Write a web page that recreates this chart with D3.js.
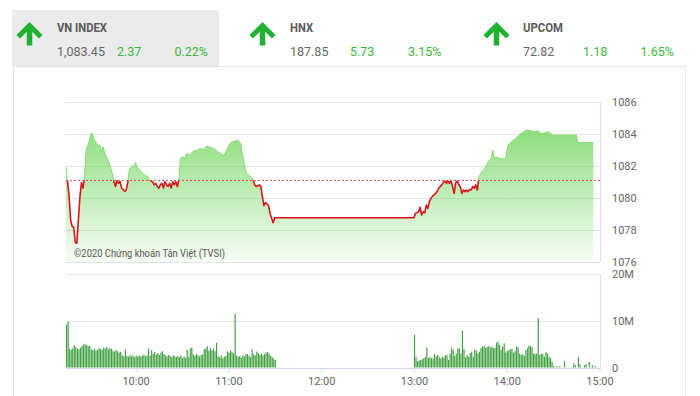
<!DOCTYPE html>
<html lang="vi">
<head>
<meta charset="UTF-8">
<title>VN INDEX</title>
<script src="https://cdn.jsdelivr.net/npm/d3@7"></script>
<style>
  body { margin: 0; background: #fff; }
  svg { display: block; font-family: Roboto, "Liberation Sans", sans-serif; }
</style>
</head>
<body>
<script>
// ---- header data
var indexNames = ["VN INDEX", "HNX", "UPCOM"];
var indexLast = ["1,083.45", "187.85", "72.82"];
var indexChange = ["2.37", "5.73", "1.18"];
var indexPct = ["0.22%", "3.15%", "1.65%"];

// ---- intraday price (time, value)
var priceTimes = ["09:15","09:16","09:17","09:18","09:19","09:20","09:21","09:22","09:23","09:24","09:25","09:26","09:27","09:28","09:30","09:31","09:32","09:33","09:34","09:36","09:37","09:38","09:39","09:40","09:41","09:43","09:45","09:46","09:47","09:48","09:49","09:50","09:51","09:52","09:53","09:54","09:55","09:56","09:57","09:59","10:00","10:01","10:03","10:05","10:06","10:08","10:09","10:11","10:12","10:13","10:14","10:15","10:16","10:17","10:18","10:19","10:20","10:21","10:22","10:23","10:24","10:25","10:26","10:27","10:28","10:29","10:31","10:32","10:33","10:35","10:37","10:40","10:42","10:44","10:46","10:48","10:50","10:52","10:53","10:55","10:57","10:58","10:59","11:01","11:03","11:05","11:06","11:08","11:09","11:11","11:12","11:13","11:15","11:16","11:17","11:18","11:20","11:21","11:22","11:23","11:24","11:26","11:27","11:28","11:29","11:30","13:00","13:01","13:03","13:04","13:05","13:06","13:07","13:08","13:09","13:10","13:11","13:12","13:13","13:15","13:16","13:18","13:19","13:20","13:21","13:22","13:23","13:24","13:25","13:26","13:27","13:28","13:29","13:30","13:31","13:32","13:33","13:34","13:35","13:36","13:37","13:38","13:39","13:40","13:41","13:42","13:44","13:46","13:48","13:50","13:51","13:52","13:53","13:55","13:57","13:59","14:00","14:01","14:03","14:05","14:07","14:09","14:11","14:13","14:15","14:18","14:20","14:22","14:23","14:25","14:27","14:28","14:30","14:45","14:46","14:56"];
var priceValues = [1081.9,1081.0,1080.1,1078.6,1078.2,1078.15,1077.2,1077.15,1078.6,1080.06,1080.95,1080.6,1081.3,1082.98,1083.5,1084.0,1084.0,1083.7,1083.5,1083.2,1083.3,1082.9,1083.2,1082.8,1082.6,1082.15,1081.5,1081.0,1080.7,1081.1,1080.9,1081.0,1080.6,1080.5,1080.4,1080.5,1081.0,1081.8,1081.9,1082.0,1082.2,1081.9,1081.7,1081.5,1081.4,1081.3,1081.1,1081.0,1080.8,1080.9,1080.7,1080.6,1080.8,1080.9,1080.6,1081.0,1080.8,1080.7,1080.9,1080.6,1081.0,1080.8,1081.0,1080.7,1081.1,1082.46,1082.56,1082.46,1082.77,1082.67,1082.88,1082.98,1083.08,1083.0,1083.23,1083.15,1083.08,1082.98,1082.88,1082.77,1082.67,1082.77,1082.98,1083.4,1083.5,1083.56,1083.6,1083.4,1082.77,1081.73,1081.52,1081.42,1081.27,1081.1,1080.8,1080.7,1080.8,1080.7,1080.06,1079.5,1079.7,1079.5,1079.0,1078.7,1078.44,1078.75,1078.75,1079.02,1079.12,1079.4,1078.92,1079.12,1079.06,1079.54,1079.33,1079.75,1079.96,1080.1,1080.17,1080.38,1080.59,1080.8,1080.94,1081.06,1080.9,1081.06,1080.9,1081.06,1080.69,1080.27,1080.94,1081.06,1080.8,1080.69,1080.27,1080.48,1080.38,1080.48,1080.38,1080.52,1080.48,1080.69,1080.59,1080.8,1080.48,1081.31,1081.63,1081.84,1082.25,1082.46,1082.98,1082.46,1082.56,1082.46,1082.46,1082.36,1082.88,1083.29,1083.5,1083.65,1083.81,1083.98,1084.13,1084.23,1084.19,1084.13,1084.19,1084.02,1084.02,1084.06,1084.13,1084.02,1083.92,1083.92,1083.45,1083.45];
var refValue = 1081.08;

// ---- volume (millions), one bar per minute
var volMorningStart = "09:15";
var volMorning = [9.2,9.9,4.0,3.8,4.1,4.8,4.4,4.0,3.9,4.2,4.6,4.9,5.1,4.8,4.6,4.7,3.9,3.7,4.0,3.6,3.8,4.2,4.0,3.8,4.3,4.1,4.4,3.9,4.2,4.0,3.6,3.4,3.8,3.5,3.2,3.4,2.6,2.4,3.9,2.5,2.3,2.7,2.4,2.6,2.2,2.5,2.4,2.6,2.3,2.5,2.8,2.4,2.6,4.1,2.5,3.7,2.9,3.3,2.8,3.1,2.7,3.2,3.5,2.9,2.6,2.4,2.7,2.5,2.2,2.6,2.4,2.3,2.5,2.2,2.6,2.0,2.4,2.1,3.8,2.3,4.1,4.3,2.8,2.5,2.9,2.6,2.4,2.7,2.8,3.9,4.1,4.6,3.6,4.2,3.7,4.1,3.5,5.3,2.4,2.2,2.6,2.0,2.3,2.5,3.5,3.2,3.7,3.4,3.0,11.5,2.6,2.3,2.5,2.1,2.6,2.4,2.8,2.9,2.5,2.2,3.9,2.8,2.6,3.4,3.1,2.7,3.0,2.6,2.9,3.2,3.3,3.0,2.5,2.2,1.9,1.6];
var volAfternoonStart = "13:00";
var volAfternoon = [7.0,2.3,1.3,1.5,1.6,1.8,2.0,2.3,4.3,2.0,2.2,2.0,1.9,2.9,2.4,2.7,2.2,1.9,2.3,2.1,2.6,2.7,1.6,3.0,4.3,3.8,2.5,3.0,4.1,4.1,3.0,7.9,3.9,2.2,2.7,2.3,3.1,3.4,2.3,3.9,3.6,3.0,3.4,4.2,4.5,4.6,4.2,4.4,4.6,4.3,4.5,4.2,4.2,5.3,5.6,4.8,3.8,4.5,5.2,3.2,3.6,3.7,3.9,4.0,3.2,3.5,4.5,4.3,3.0,2.7,2.9,2.5,3.7,4.1,4.7,4.6,4.4,3.0,2.9,3.0,10.6,2.7,3.0,2.9,2.3,3.3,3.0,2.3,2.0,1.2];
var lateTimes = ["14:30","14:32","14:34","14:37","14:43","14:44","14:46","14:47","14:50","14:51","14:53","14:55","14:57"];
var lateVols = [0.3,0.3,0.3,1.4,0.9,0.5,2.3,0.7,0.5,0.7,1.2,0.5,0.3];

// ---- axes
var priceTicks = [1076, 1078, 1080, 1082, 1084, 1086];
var volTicks = [0, 10, 20];
var volTickLabels = ["0", "10M", "20M"];
var hourTicks = ["10:00", "11:00", "12:00", "13:00", "14:00", "15:00"];

var w = 700, h = 396;
var parseTime = d3.timeParse("%H:%M");
var fmtTime = d3.timeFormat("%H:%M");

var x = d3.scaleTime()
  .domain([parseTime("09:15"), parseTime("15:00")])
  .range([66, 599.5]);
var yP = d3.scaleLinear().domain([1076, 1086]).range([261.7, 101.7]);
var yV = d3.scaleLinear().domain([0, 20]).range([367.5, 274.3]);

var svg = d3.select("body").append("svg")
  .attr("width", w)
  .attr("height", h);

var defs = svg.append("defs");
var grad = defs.append("linearGradient")
  .attr("id", "greenFill")
  .attr("gradientUnits", "userSpaceOnUse")
  .attr("x1", 0).attr("x2", 0)
  .attr("y1", yP(1085)).attr("y2", yP(1076));
grad.append("stop").attr("offset", 0).attr("stop-color", "#6fd65a").attr("stop-opacity", 0.85);
grad.append("stop").attr("offset", 1).attr("stop-color", "#6fd65a").attr("stop-opacity", 0.06);

defs.append("clipPath").attr("id", "clipAbove")
  .append("rect").attr("x", 0).attr("y", 0).attr("width", w).attr("height", yP(refValue));
defs.append("clipPath").attr("id", "clipBelow")
  .append("rect").attr("x", 0).attr("y", yP(refValue)).attr("width", w).attr("height", h);

// ---- header / frame
svg.append("rect")
  .attr("x", 12).attr("y", 10).attr("width", 207).attr("height", 56)
  .attr("fill", "#ebebeb");
svg.append("line")
  .attr("x1", 13).attr("x2", 685).attr("y1", 66.5).attr("y2", 66.5)
  .attr("stroke", "#e4e4e4");
svg.append("line")
  .attr("x1", 13.5).attr("x2", 13.5).attr("y1", 66).attr("y2", h)
  .attr("stroke", "#e4e4e4");
svg.append("line")
  .attr("x1", 685.5).attr("x2", 685.5).attr("y1", 66).attr("y2", h)
  .attr("stroke", "#e8e8e8");

var arrowX = [29.5, 262.5, 496.5];
var textX = [57, 290, 523];
var titleW = [50, 23, 40];
var chgX = [117, 350, 583];
var pctRight = [208, 441.5, 674];

indexNames.forEach(function(name, i) {
  var g = svg.append("g");
  var ax = arrowX[i];
  g.append("path")
    .attr("d", "M" + (ax - 9.5) + ",35 L" + ax + ",25.5 L" + (ax + 9.5) + ",35")
    .attr("fill", "none")
    .attr("stroke", "#1fb22f")
    .attr("stroke-width", 5)
    .attr("stroke-linecap", "square");
  g.append("line")
    .attr("x1", ax).attr("x2", ax).attr("y1", 27).attr("y2", 45.5)
    .attr("stroke", "#1fb22f")
    .attr("stroke-width", 5.5);
  g.append("text")
    .attr("x", textX[i]).attr("y", 31.8)
    .attr("font-size", 13).attr("font-weight", "bold")
    .attr("fill", "#5a5a5a")
    .attr("textLength", titleW[i])
    .attr("lengthAdjust", "spacingAndGlyphs")
    .text(name);
  g.append("text")
    .attr("x", textX[i]).attr("y", 56)
    .attr("font-size", 12.5)
    .attr("fill", "#666")
    .text(indexLast[i]);
  g.append("text")
    .attr("x", chgX[i]).attr("y", 56)
    .attr("font-size", 12.5)
    .attr("fill", "#3cb73c")
    .text(indexChange[i]);
  g.append("text")
    .attr("x", pctRight[i]).attr("y", 56)
    .attr("font-size", 12.5)
    .attr("text-anchor", "end")
    .attr("fill", "#3cb73c")
    .text(indexPct[i]);
});

// ---- price chart
svg.append("g")
  .selectAll("line")
  .data(priceTicks)
  .enter()
  .append("line")
  .attr("x1", 66).attr("x2", 600)
  .attr("y1", function(d) { return Math.round(yP(d)) + 0.5; })
  .attr("y2", function(d) { return Math.round(yP(d)) + 0.5; })
  .attr("stroke", "#e3e3e3");

svg.append("line")
  .attr("x1", 600.5).attr("x2", 600.5)
  .attr("y1", yP(1086)).attr("y2", yP(1076))
  .attr("stroke", "#d8dfea");

var priceData = priceTimes.map(function(t, i) {
  return { t: parseTime(t), v: priceValues[i] };
});

var area = d3.area()
  .x(function(d) { return x(d.t); })
  .y0(yP(1076))
  .y1(function(d) { return yP(d.v); });
var line = d3.line()
  .x(function(d) { return x(d.t); })
  .y(function(d) { return yP(d.v); });

svg.append("path")
  .datum(priceData)
  .attr("d", area)
  .attr("fill", "url(#greenFill)");

svg.append("path")
  .datum(priceData)
  .attr("d", line)
  .attr("fill", "none")
  .attr("stroke", "#86dc73")
  .attr("stroke-width", 1)
  .attr("clip-path", "url(#clipAbove)");

svg.append("path")
  .datum(priceData)
  .attr("d", line)
  .attr("fill", "none")
  .attr("stroke", "#d8141c")
  .attr("stroke-width", 1.6)
  .attr("stroke-linejoin", "round")
  .attr("clip-path", "url(#clipBelow)");

// reference (previous close)
svg.append("line")
  .attr("x1", 66).attr("x2", 600)
  .attr("y1", yP(refValue)).attr("y2", yP(refValue))
  .attr("stroke", "#e0474c")
  .attr("stroke-width", 1)
  .attr("stroke-dasharray", "2,2");

svg.append("text")
  .attr("x", 74).attr("y", 256.5)
  .attr("font-size", 10.5)
  .attr("fill", "#555")
  .attr("textLength", 151)
  .attr("lengthAdjust", "spacingAndGlyphs")
  .text("©2020 Chứng khoán Tân Việt (TVSI)");

svg.append("g")
  .selectAll("text")
  .data(priceTicks)
  .enter()
  .append("text")
  .attr("x", 612)
  .attr("y", function(d) { return yP(d) + 4; })
  .attr("font-size", 11)
  .attr("fill", "#666")
  .text(function(d) { return d; });

// ---- volume chart
svg.append("g")
  .selectAll("line")
  .data(volTicks.slice(1))
  .enter()
  .append("line")
  .attr("x1", 66).attr("x2", 600)
  .attr("y1", function(d) { return Math.round(yV(d)) + 0.5; })
  .attr("y2", function(d) { return Math.round(yV(d)) + 0.5; })
  .attr("stroke", "#e3e3e3");

svg.append("line")
  .attr("x1", 600.5).attr("x2", 600.5)
  .attr("y1", yV(20)).attr("y2", yV(0))
  .attr("stroke", "#d8dfea");

var volData = [];
volMorning.forEach(function(v, i) {
  volData.push({ t: d3.timeMinute.offset(parseTime(volMorningStart), i), v: v });
});
volAfternoon.forEach(function(v, i) {
  volData.push({ t: d3.timeMinute.offset(parseTime(volAfternoonStart), i), v: v });
});
lateTimes.forEach(function(t, i) {
  volData.push({ t: parseTime(t), v: lateVols[i] });
});

svg.append("g")
  .selectAll("rect")
  .data(volData)
  .enter()
  .append("rect")
  .attr("x", function(d) { return x(d.t); })
  .attr("y", function(d) { return yV(d.v); })
  .attr("width", 1.15)
  .attr("height", function(d) { return yV(0) - yV(d.v); })
  .attr("fill", "#3f9f3f");

var xAxis = d3.axisBottom(x)
  .tickValues(hourTicks.map(parseTime))
  .tickFormat(fmtTime)
  .tickSize(4)
  .tickPadding(5);

var gx = svg.append("g")
  .attr("transform", "translate(0," + (Math.round(yV(0)) + 0.5) + ")")
  .call(xAxis);
gx.select(".domain").attr("stroke", "#cfd8e6").attr("d", "M66,0H600");
gx.selectAll(".tick line").attr("stroke", "#cfd8e6");
gx.selectAll(".tick text")
  .attr("fill", "#666")
  .attr("font-size", 11)
  .attr("font-family", "Roboto, sans-serif");

svg.append("g")
  .selectAll("text")
  .data(volTicks)
  .enter()
  .append("text")
  .attr("x", 612)
  .attr("y", function(d) { return yV(d) + 4; })
  .attr("font-size", 11)
  .attr("fill", "#666")
  .text(function(d, i) { return volTickLabels[i]; });
</script>
</body>
</html>
